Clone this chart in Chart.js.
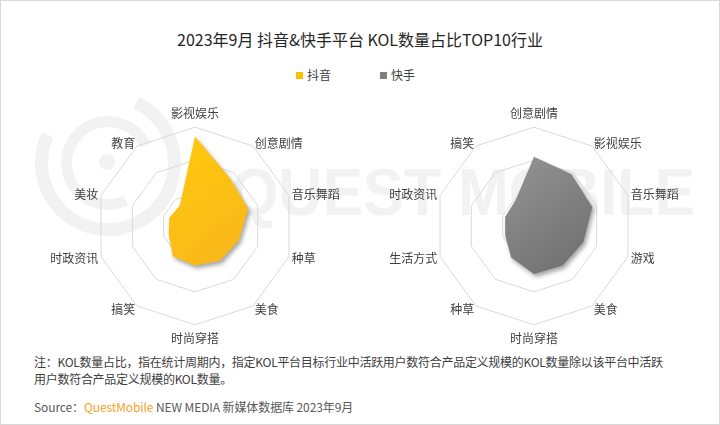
<!DOCTYPE html>
<html>
<head>
<meta charset="utf-8">
<script src="https://cdn.jsdelivr.net/npm/chart.js@4.4.0/dist/chart.umd.min.js"></script>
<style>
html,body{margin:0;padding:0;background:#fff;}
#wrap{position:relative;width:720px;height:425px;overflow:hidden;font-family:"Noto Sans CJK SC","Noto Sans",sans-serif;background:#fff;}
#frame{position:absolute;left:0;top:0;width:718px;height:423px;border:1px solid #d9d9d9;}
.wm{position:absolute;color:#f2f2f2;}
#wmText{left:231px;top:152px;font-family:"Liberation Sans",Arial,sans-serif;font-weight:bold;font-size:67px;line-height:80px;white-space:nowrap;transform-origin:0 0;transform:scaleX(0.91);}
.ring{position:absolute;border-radius:50%;border-style:solid;border-color:#f2f2f2;box-sizing:border-box;}
#title{position:absolute;left:0;top:28px;width:720px;text-align:center;font-size:16px;line-height:22px;color:#262626;}
.lg{position:absolute;top:67px;font-size:12px;line-height:16px;color:#404040;}
.sq{position:absolute;width:7px;height:7px;}
canvas{position:absolute;}
#note{position:absolute;left:34px;top:353px;font-size:12px;letter-spacing:-0.28px;line-height:17px;color:#404040;white-space:nowrap;}
#src{position:absolute;left:34px;top:398px;font-size:12px;letter-spacing:-0.1px;line-height:18px;color:#595959;white-space:nowrap;}
#src .qm{color:#f5a32a;}
</style>
</head>
<body>
<div id="wrap">
  <div class="ring" style="left:35px;top:90px;width:146px;height:146px;border-width:13px;border-top-color:transparent;transform:rotate(-20deg);"></div>
  <div class="ring" style="left:61px;top:116px;width:94px;height:94px;border-width:11px;border-right-color:transparent;transform:rotate(20deg);"></div>
  <div class="ring" style="left:99px;top:154px;width:16px;height:16px;border-width:8px;"></div>
  <div class="wm" id="wmText">QUEST MOBILE</div>

  <div id="title">2023年9月 抖音&amp;快手平台 KOL数量占比TOP10行业</div>
  <div class="sq" style="left:296px;top:72px;background:#ffc000;"></div>
  <div class="lg" style="left:307px;">抖音</div>
  <div class="sq" style="left:380px;top:72px;background:#7f7f7f;"></div>
  <div class="lg" style="left:391px;">快手</div>

  <canvas id="c1" width="330" height="246" style="left:30px;top:103px;"></canvas>
  <canvas id="c2" width="330" height="246" style="left:369px;top:103px;"></canvas>

  <div id="note">注：KOL数量占比，指在统计周期内，指定KOL平台目标行业中活跃用户数符合产品定义规模的KOL数量除以该平台中活跃<br>用户数符合产品定义规模的KOL数量。</div>
  <div id="src">Source：<span class="qm">QuestMobile</span> NEW MEDIA 新媒体数据库 2023年9月</div>
  <div id="frame"></div>
</div>
<script>
// ---- data ----
const douyinLabels = ['影视娱乐','创意剧情','音乐舞蹈','种草','美食','时尚穿搭','搞笑','时政资讯','美妆','教育'];
const douyinValues = [13.6, 9.0, 8.5, 7.0, 6.5, 6.0, 5.7, 4.2, 4.1, 3.9];
const kuaishouLabels = ['创意剧情','影视娱乐','音乐舞蹈','游戏','美食','时尚穿搭','种草','生活方式','时政资讯','搞笑'];
const kuaishouValues = [10.5, 9.7, 9.3, 7.9, 7.4, 7.3, 5.9, 4.6, 4.6, 4.8];
const seriesNames = ['抖音','快手'];
const scaleMax = 15;
const scaleStep = 5;

function gradientFill(c0, c1) {
  return (ctx) => {
    const chart = ctx.chart;
    const s = chart.scales && chart.scales.r;
    if (!s || !s.drawingArea) return c0;
    const r = s.drawingArea;
    const g = chart.ctx.createLinearGradient(s.xCenter - r * 0.5, s.yCenter - r * 0.9, s.xCenter + r * 0.6, s.yCenter + r * 0.5);
    g.addColorStop(0, c0);
    g.addColorStop(1, c1);
    return g;
  };
}

const shadowPlugin = {
  id: 'shadow',
  beforeDatasetsDraw(chart) {
    const c = chart.ctx;
    c.save();
    c.shadowColor = 'rgba(0,0,0,0.35)';
    c.shadowBlur = 4;
    c.shadowOffsetX = 2;
    c.shadowOffsetY = 3;
  },
  afterDatasetsDraw(chart) { chart.ctx.restore(); }
};

function makeRadar(id, labels, values, name, c0, c1) {
  return new Chart(document.getElementById(id), {
    type: 'radar',
    data: {
      labels: labels,
      datasets: [{
        label: name,
        data: values,
        fill: true,
        backgroundColor: gradientFill(c0, c1),
        borderWidth: 0,
        pointRadius: 0,
        pointHoverRadius: 0,
        tension: 0
      }]
    },
    options: {
      responsive: false,
      animation: false,
      devicePixelRatio: 1,
      layout: { padding: { top: 10, bottom: 10, left: 0, right: 0 } },
      plugins: { legend: { display: false }, tooltip: { enabled: false }, title: { display: false } },
      scales: {
        r: {
          min: 0,
          max: scaleMax,
          ticks: { display: false, stepSize: scaleStep },
          grid: { color: '#d9d9d9', lineWidth: 1 },
          angleLines: { display: false },
          pointLabels: {
            color: '#404040',
            font: { size: 12, family: '"Noto Sans CJK SC","Noto Sans",sans-serif', lineHeight: 0.1 },
            padding: (ctx) => (ctx.index % 5 === 0 ? 13 : 3)
          }
        }
      }
    },
    plugins: [shadowPlugin]
  });
}

makeRadar('c1', douyinLabels, douyinValues, seriesNames[0], '#ffcb0a', '#f8b41e');
makeRadar('c2', kuaishouLabels, kuaishouValues, seriesNames[1], '#9c9c9c', '#6c6c6c');
</script>
</body>
</html>
